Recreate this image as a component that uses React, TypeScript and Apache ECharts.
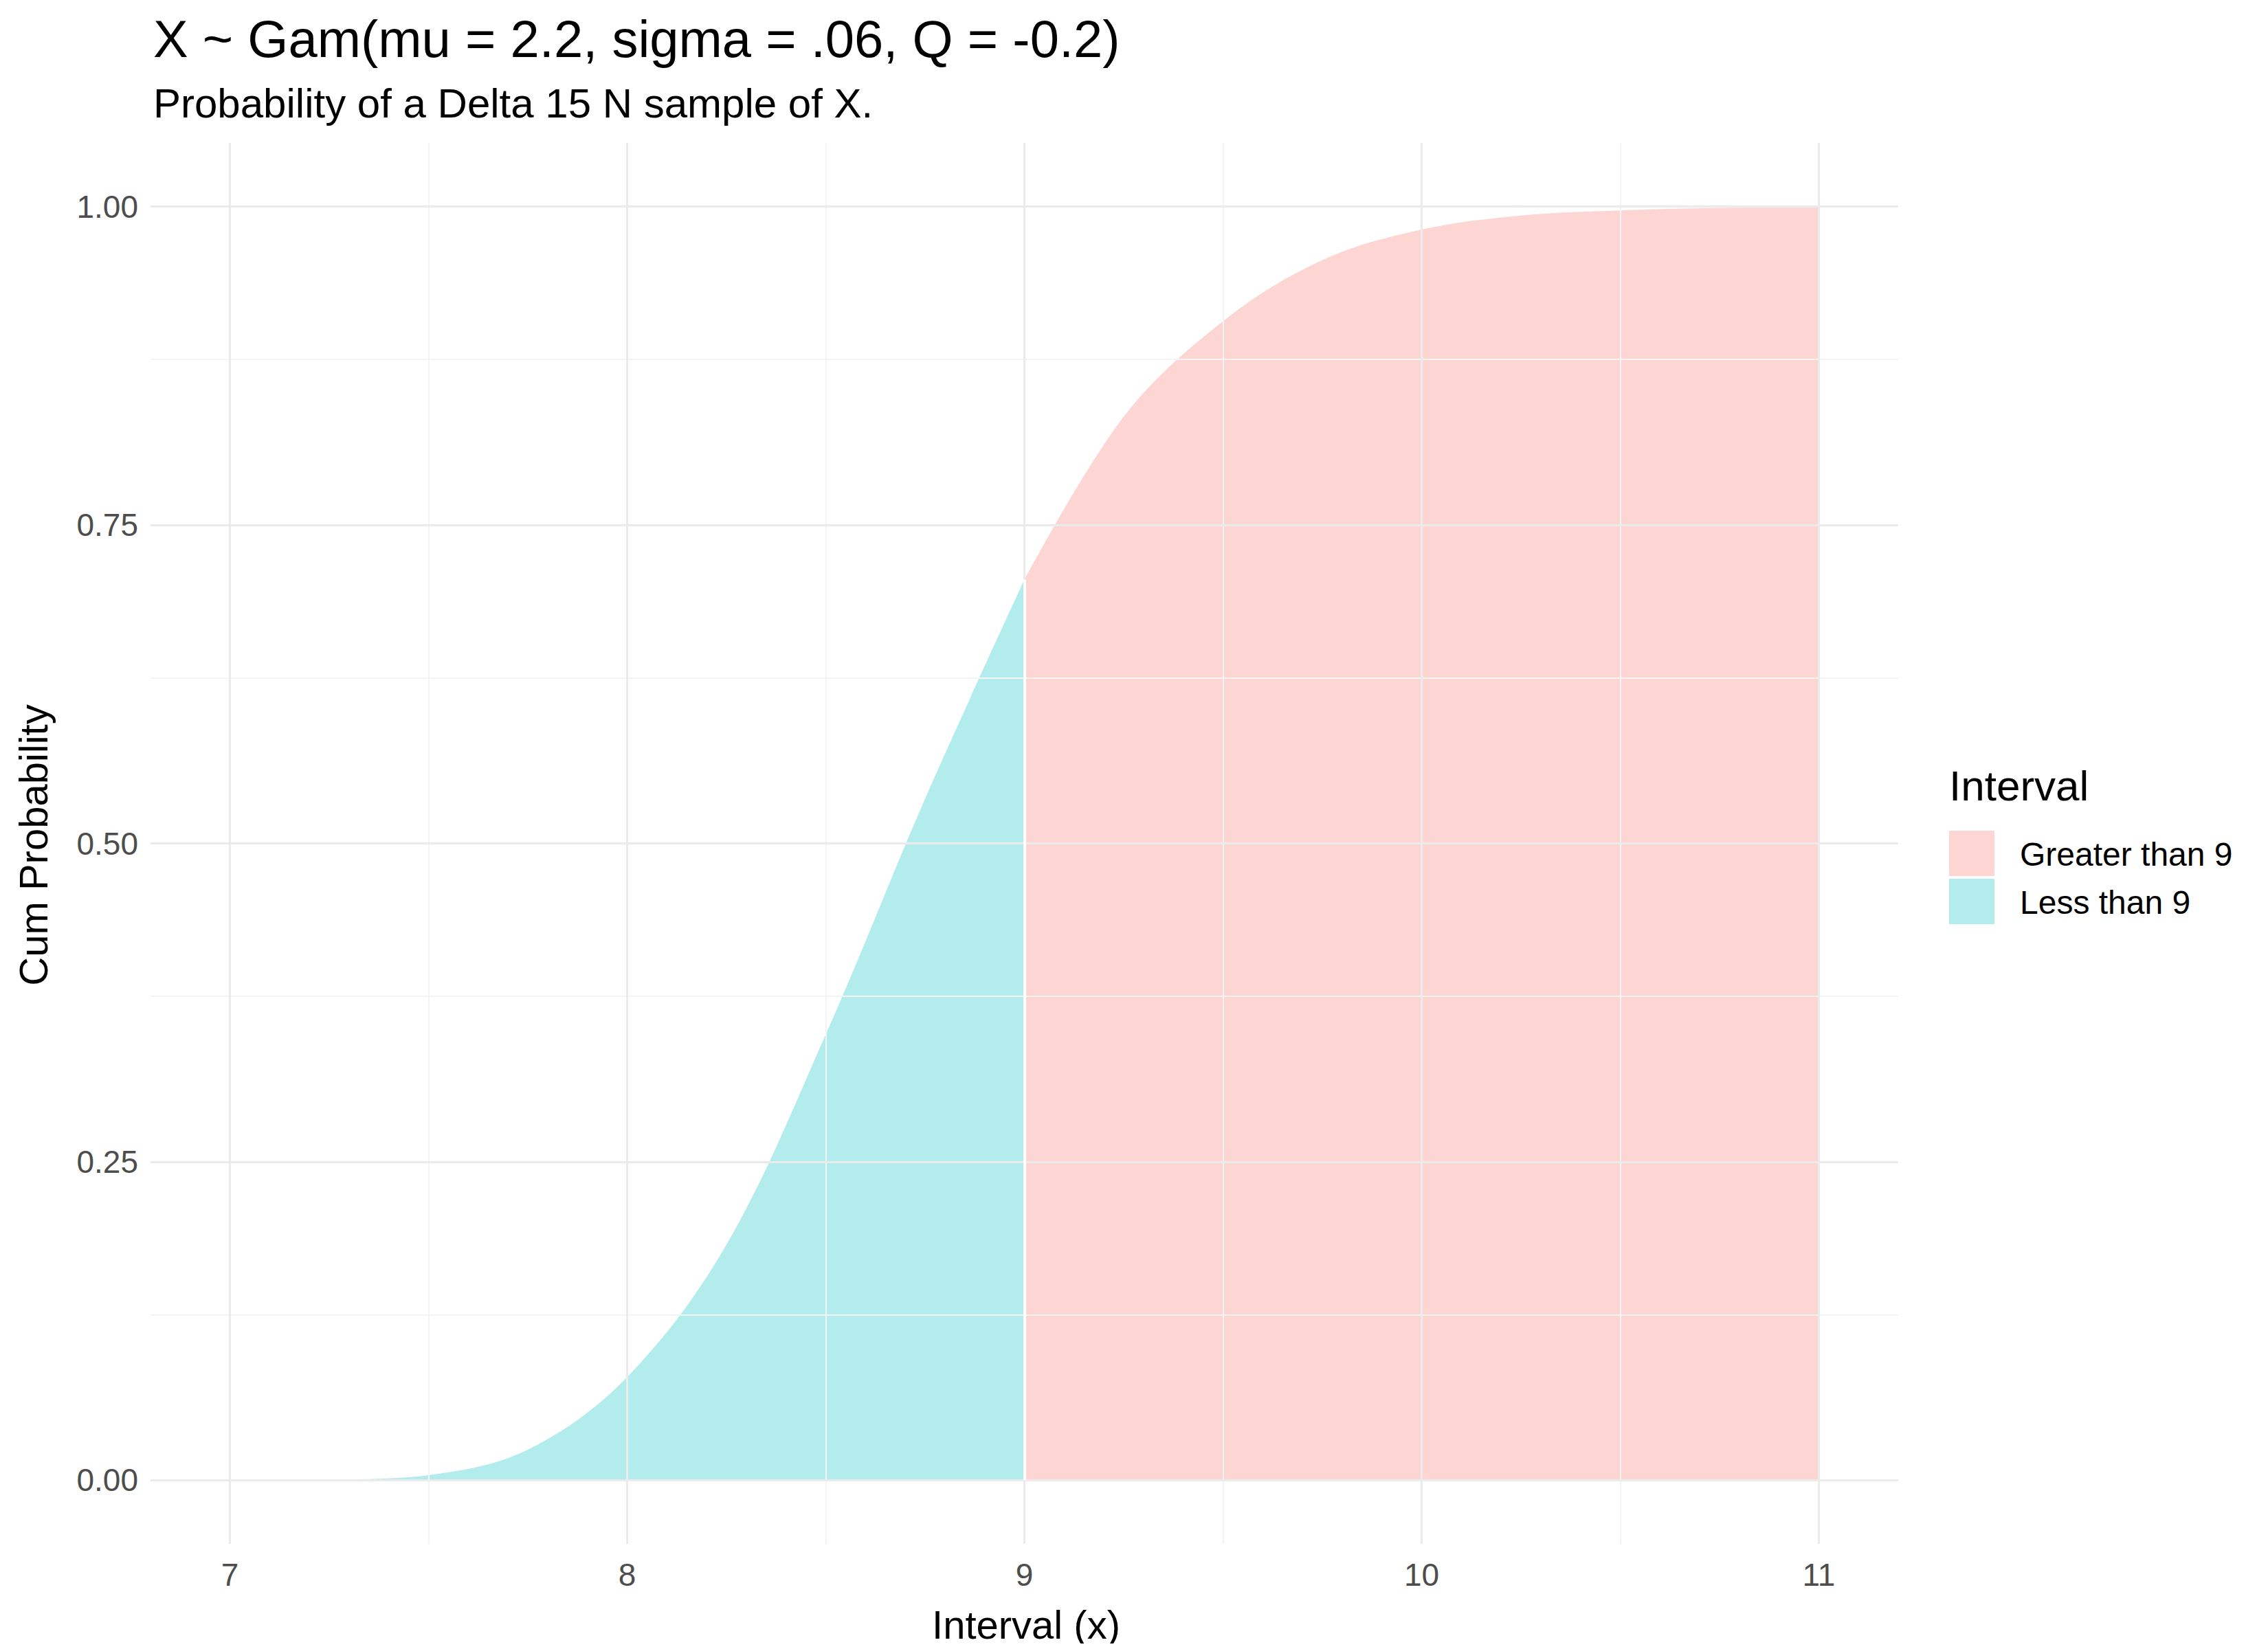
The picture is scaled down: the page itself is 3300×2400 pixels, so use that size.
import React, { useEffect, useRef } from 'react';
import * as echarts from 'echarts';

const lessX = [7, 7.25, 7.5, 7.75, 8, 8.25, 8.5, 8.75, 9];
const lessY = [0, 0.0005, 0.004, 0.024, 0.081, 0.185, 0.35, 0.535, 0.707];
const greaterX = [9, 9.25, 9.5, 9.75, 10, 10.25, 10.5, 10.75, 11];
const greaterY = [0.707, 0.835, 0.91, 0.958, 0.982, 0.993, 0.997, 0.999, 1.0];
const xTicks = [7, 8, 9, 10, 11];
const xMinor = [7.5, 8.5, 9.5, 10.5];
const yTicks = [0, 0.25, 0.5, 0.75, 1];
const yMinor = [0.125, 0.375, 0.625, 0.875];

const FONT = '"Liberation Sans", Arial, sans-serif';

const App: React.FC = () => {
  const chartRef = useRef<HTMLDivElement>(null);

  useEffect(() => {
    if (!chartRef.current) return;
    const chart = echarts.init(chartRef.current, undefined, { renderer: 'svg' });

    const gridLines = [
      ...xMinor.map(v => ({ xAxis: v, lineStyle: { color: '#F4F4F4', width: 2, type: 'solid' } })),
      ...yMinor.map(v => ({ yAxis: v, lineStyle: { color: '#F4F4F4', width: 2, type: 'solid' } })),
      ...xTicks.map(v => ({ xAxis: v, lineStyle: { color: '#EBEBEB', width: 3, type: 'solid' } })),
      ...yTicks.map(v => ({ yAxis: v, lineStyle: { color: '#EBEBEB', width: 3, type: 'solid' } })),
    ];

    const option: echarts.EChartsOption = {
      animation: false,
      backgroundColor: '#fff',
      grid: { left: 211, right: 530, top: 200, bottom: 145 },
      xAxis: {
        type: 'value', min: 6.8, max: 11.2,
        splitLine: { show: false }, axisLine: { show: false }, axisTick: { show: false },
        axisLabel: { customValues: xTicks, fontSize: 46, color: '#4D4D4D', fontFamily: FONT, margin: 22 },
      },
      yAxis: {
        type: 'value', min: -0.05, max: 1.05,
        splitLine: { show: false }, axisLine: { show: false }, axisTick: { show: false },
        axisLabel: {
          customValues: yTicks, fontSize: 46, color: '#4D4D4D', fontFamily: FONT, margin: 18,
          formatter: (v: number) => v.toFixed(2),
        },
      },
      series: [
        {
          type: 'line', data: [], silent: true, z: 0,
          markLine: { silent: true, symbol: 'none', label: { show: false }, data: gridLines as any, animation: false },
        },
        {
          name: 'Less than 9', type: 'line', smooth: 0.35, showSymbol: false,
          lineStyle: { width: 0 }, areaStyle: { color: '#00BFC4', opacity: 0.3 }, z: 2,
          data: lessX.map((x, i) => [x, lessY[i]]),
        },
        {
          name: 'Greater than 9', type: 'line', smooth: 0.35, showSymbol: false,
          lineStyle: { width: 0 }, areaStyle: { color: '#F8766D', opacity: 0.3 }, z: 2,
          data: greaterX.map((x, i) => [x, greaterY[i]]),
          markLine: {
            silent: true, symbol: 'none', label: { show: false },
            data: [[{ coord: [9, 0] }, { coord: [9, 0.707] }]] as any,
            lineStyle: { color: '#fff', width: 4, type: 'solid' },
          },
        },
      ],
      graphic: [
        { type: 'text', left: 215, top: 10, style: { text: 'X ~ Gam(mu = 2.2, sigma = .06, Q = -0.2)', fontSize: 76, fill: '#000', fontFamily: FONT } },
        { type: 'text', left: 215, top: 112, style: { text: 'Probability of a Delta 15 N sample of X.', fontSize: 60, fill: '#000', fontFamily: FONT } },
        { type: 'text', x: 1485, y: 2385, style: { text: 'Interval (x)', fontSize: 58, fill: '#000', fontFamily: FONT, align: 'center', verticalAlign: 'bottom' } },
        { type: 'text', x: 40, y: 1222, rotation: Math.PI / 2, style: { text: 'Cum Probability', fontSize: 58, fill: '#000', fontFamily: FONT, align: 'center', verticalAlign: 'middle' } },
        { type: 'text', x: 2828, y: 1166, style: { text: 'Interval', fontSize: 62, fill: '#000', fontFamily: FONT, verticalAlign: 'bottom' } },
        { type: 'rect', shape: { x: 2828, y: 1201, width: 66, height: 66 }, style: { fill: '#F8766D', opacity: 0.3 } },
        { type: 'rect', shape: { x: 2828, y: 1271, width: 66, height: 66 }, style: { fill: '#00BFC4', opacity: 0.3 } },
        { type: 'text', x: 2931, y: 1235, style: { text: 'Greater than 9', fontSize: 48, fill: '#000', fontFamily: FONT, verticalAlign: 'middle' } },
        { type: 'text', x: 2931, y: 1305, style: { text: 'Less than 9', fontSize: 48, fill: '#000', fontFamily: FONT, verticalAlign: 'middle' } },
      ],
    };

    chart.setOption(option);
    return () => chart.dispose();
  }, []);

  return <div ref={chartRef} style={{ width: 3284, height: 2384 }} />;
};

export default App;
